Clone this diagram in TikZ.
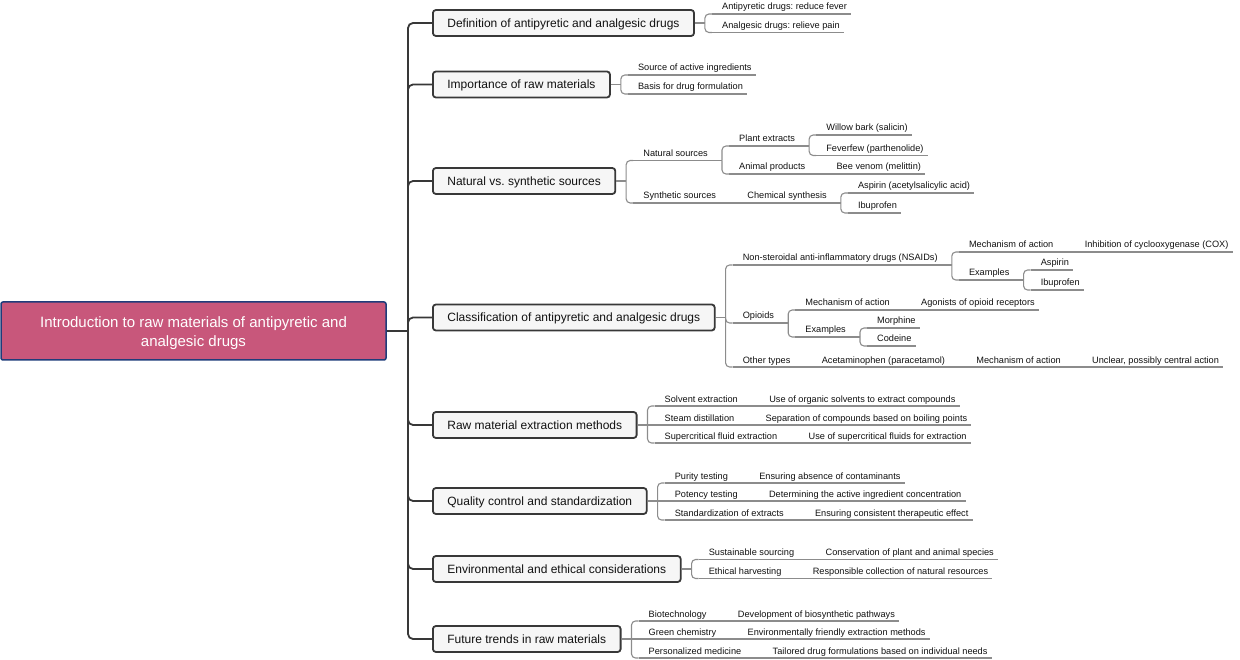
\documentclass[tikz,border=0pt]{standalone}
\usepackage{fontspec}
\setmainfont{Liberation Sans}
\frenchspacing
\definecolor{rootfill}{HTML}{C8577B}
\definecolor{rootline}{HTML}{1F3C7A}
\definecolor{boxfill}{HTML}{F6F6F6}
\definecolor{darkln}{HTML}{383838}
\definecolor{thinln}{HTML}{8C8C8C}
\definecolor{txt}{HTML}{111111}
\newcommand\kid[5]{%
  \coordinate (tmp) at ([xshift=#3pt]#2);
  \node[leaf] (#1) at (tmp |- 0,#4-4) {#5};
  \coordinate (#1-in) at ([shift={(-10pt,-4pt)}]#1.base west);
  \coordinate (#1-out) at ([shift={(4pt,-4pt)}]#1.base east);
  \draw[conn] (#1-in) -- (#1-out);}
\newcommand\lbrk[1]{%
  \coordinate (#1-b) at ([xshift=10pt]#1-out);
  \draw[conn] (#1-out) -- (#1-b);}
\newcommand\bbrk[1]{%
  \coordinate (#1-b) at ([xshift=10pt]#1.east);
  \draw[conn] (#1.east) -- (#1-b);}
\newcommand\tie[2]{\draw[conn, rounded corners=4pt] (#1-b) |- (#2-in);}
\newcommand\straightlink[2]{\draw[conn] (#1-b) -- (#2-in);}
\newcommand\chain[2]{\draw[conn] (#1-out) -- (#2-in);}
\begin{document}
\begin{tikzpicture}[x=1pt,y=-1pt,
  rootbox/.style={draw=rootline, line width=1.5pt, fill=rootfill, rounded corners=2pt,
    text=white, font=\fontsize{15}{19}\selectfont,
    minimum width=385pt, minimum height=58pt, inner sep=0pt},
  box/.style={draw=darkln, line width=1.8pt, fill=boxfill, rounded corners=3pt,
    text=txt, font=\fontsize{12}{14}\selectfont, minimum height=26pt,
    text height=8.6pt, text depth=0pt,
    inner xsep=14.5pt, inner ysep=0pt, anchor=west},
  leaf/.style={inner sep=0pt, anchor=base west, text=txt, font=\fontsize{9.2}{11}\selectfont},
  conn/.style={draw=thinln, line width=1.1pt},
  trunk/.style={draw=darkln, line width=1.8pt, rounded corners=5pt}]
\useasboundingbox (0,0) rectangle (1240,660);

\node[rootbox] (root) at (193.5,331) {\raisebox{-2.5pt}[\height][\depth]{\begin{tabular}{@{}c@{}}Introduction to raw materials of antipyretic and\\analgesic drugs\end{tabular}}};

\node[box] (d1) at (432,23) {Definition of antipyretic and analgesic drugs};
\node[box] (d2) at (432,84.5) {Importance of raw materials};
\node[box] (d3) at (432,181) {Natural vs. synthetic sources};
\node[box] (d4) at (432,317.5) {Classification of antipyretic and analgesic drugs};
\node[box] (d5) at (432,425) {Raw material extraction methods};
\node[box] (d6) at (432,501) {Quality control and standardization};
\node[box] (d7) at (432,569) {Environmental and ethical considerations};
\node[box] (d8) at (432,639) {Future trends in raw materials};

\coordinate (tr) at (408,331);
\draw[trunk] (root.east) -- (tr);
\foreach \b in {d1,d2,d3,d4,d5,d6,d7,d8} { \draw[trunk] (tr) |- (\b.west); }

% Definition
\bbrk{d1}
\kid{a1}{d1.east}{27}{14}{Antipyretic drugs: reduce fever}
\kid{a2}{d1.east}{27}{32.5}{Analgesic drugs: relieve pain}
\tie{d1}{a1}\tie{d1}{a2}

% Importance
\bbrk{d2}
\kid{b1}{d2.east}{27}{75}{Source of active ingredients}
\kid{b2}{d2.east}{27}{94}{Basis for drug formulation}
\tie{d2}{b1}\tie{d2}{b2}

% Natural vs synthetic
\bbrk{d3}
\kid{n1}{d3.east}{27}{160.5}{Natural sources}
\kid{n2}{d3.east}{27}{203}{Synthetic sources}
\tie{d3}{n1}\tie{d3}{n2}
\lbrk{n1}
\kid{n11}{n1.base east}{31}{146}{Plant extracts}
\kid{n12}{n1.base east}{31}{174}{Animal products}
\tie{n1}{n11}\tie{n1}{n12}
\lbrk{n11}
\kid{n111}{n11.base east}{31}{135}{Willow bark (salicin)}
\kid{n112}{n11.base east}{31}{155.5}{Feverfew (parthenolide)}
\tie{n11}{n111}\tie{n11}{n112}
\kid{n121}{n12.base east}{31}{174}{Bee venom (melittin)}
\chain{n12}{n121}
\kid{n21}{n2.base east}{31}{203}{Chemical synthesis}
\chain{n2}{n21}
\lbrk{n21}
\kid{n211}{n21.base east}{31}{193}{Aspirin (acetylsalicylic acid)}
\kid{n212}{n21.base east}{31}{213}{Ibuprofen}
\tie{n21}{n211}\tie{n21}{n212}

% Classification
\bbrk{d4}
\kid{c1}{d4.east}{27}{265}{Non-steroidal anti-inflammatory drugs (NSAIDs)}
\kid{c2}{d4.east}{27}{323}{Opioids}
\kid{c3}{d4.east}{27}{367}{Other types}
\tie{d4}{c1}\tie{d4}{c2}\tie{d4}{c3}
\lbrk{c1}
\kid{c11}{c1.base east}{31}{252}{Mechanism of action}
\kid{c12}{c1.base east}{31}{280}{Examples}
\tie{c1}{c11}\tie{c1}{c12}
\kid{c111}{c11.base east}{31}{252}{Inhibition of cyclooxygenase (COX)}
\chain{c11}{c111}
\lbrk{c12}
\kid{c121}{c12.base east}{31}{270}{Aspirin}
\kid{c122}{c12.base east}{31}{290}{Ibuprofen}
\tie{c12}{c121}\tie{c12}{c122}
\lbrk{c2}
\kid{c21}{c2.base east}{31}{310}{Mechanism of action}
\kid{c22}{c2.base east}{31}{337}{Examples}
\tie{c2}{c21}\tie{c2}{c22}
\kid{c211}{c21.base east}{31}{310}{Agonists of opioid receptors}
\chain{c21}{c211}
\lbrk{c22}
\kid{c221}{c22.base east}{31}{328}{Morphine}
\kid{c222}{c22.base east}{31}{346}{Codeine}
\tie{c22}{c221}\tie{c22}{c222}
\kid{c31}{c3.base east}{31}{367}{Acetaminophen (paracetamol)}
\chain{c3}{c31}
\kid{c311}{c31.base east}{31}{367}{Mechanism of action}
\chain{c31}{c311}
\kid{c3111}{c311.base east}{31}{367}{Unclear, possibly central action}
\chain{c311}{c3111}

% Extraction
\bbrk{d5}
\kid{r1}{d5.east}{27}{406}{Solvent extraction}
\kid{r2}{d5.east}{27}{425}{Steam distillation}
\kid{r3}{d5.east}{27}{443}{Supercritical fluid extraction}
\tie{d5}{r1}\straightlink{d5}{r2}\tie{d5}{r3}
\kid{r11}{r1.base east}{31}{406}{Use of organic solvents to extract compounds}
\kid{r21}{r2.base east}{31}{425}{Separation of compounds based on boiling points}
\kid{r31}{r3.base east}{31}{443}{Use of supercritical fluids for extraction}
\chain{r1}{r11}\chain{r2}{r21}\chain{r3}{r31}

% Quality
\bbrk{d6}
\kid{q1}{d6.east}{27}{483}{Purity testing}
\kid{q2}{d6.east}{27}{501}{Potency testing}
\kid{q3}{d6.east}{27}{520}{Standardization of extracts}
\tie{d6}{q1}\straightlink{d6}{q2}\tie{d6}{q3}
\kid{q11}{q1.base east}{31}{483}{Ensuring absence of contaminants}
\kid{q21}{q2.base east}{31}{501}{Determining the active ingredient concentration}
\kid{q31}{q3.base east}{31}{520}{Ensuring consistent therapeutic effect}
\chain{q1}{q11}\chain{q2}{q21}\chain{q3}{q31}

% Environmental
\bbrk{d7}
\kid{e1}{d7.east}{27}{559.5}{Sustainable sourcing}
\kid{e2}{d7.east}{27}{578.5}{Ethical harvesting}
\tie{d7}{e1}\tie{d7}{e2}
\kid{e11}{e1.base east}{31}{559.5}{Conservation of plant and animal species}
\kid{e21}{e2.base east}{31}{578.5}{Responsible collection of natural resources}
\chain{e1}{e11}\chain{e2}{e21}

% Future
\bbrk{d8}
\kid{f1}{d8.east}{27}{621}{Biotechnology}
\kid{f2}{d8.east}{27}{639}{Green chemistry}
\kid{f3}{d8.east}{27}{658}{Personalized medicine}
\tie{d8}{f1}\straightlink{d8}{f2}\tie{d8}{f3}
\kid{f11}{f1.base east}{31}{621}{Development of biosynthetic pathways}
\kid{f21}{f2.base east}{31}{639}{Environmentally friendly extraction methods}
\kid{f31}{f3.base east}{31}{658}{Tailored drug formulations based on individual needs}
\chain{f1}{f11}\chain{f2}{f21}\chain{f3}{f31}
\end{tikzpicture}
\end{document}
